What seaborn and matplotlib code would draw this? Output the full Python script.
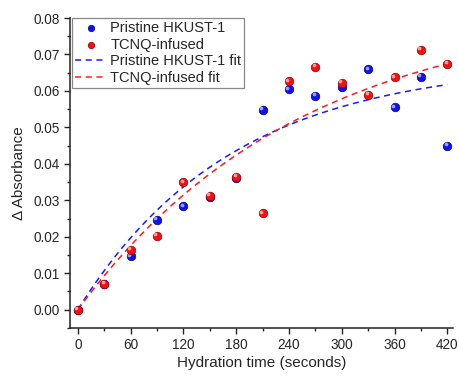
import numpy as np
import pandas as pd
import matplotlib
matplotlib.use("Agg")
import matplotlib.pyplot as plt
import matplotlib.transforms as mtransforms
import seaborn as sns

time_s = [0, 30, 60, 90, 120, 150, 180, 210, 240, 270, 300, 330, 360, 390, 420]
pristine = [0.0, 0.0069, 0.0147, 0.0247, 0.0283, 0.0310, 0.0362, 0.0549, 0.0605, 0.0587, 0.0612, 0.0660, 0.0555, 0.0639, 0.0449]
tcnq = [0.0, 0.0071, 0.0165, 0.0202, 0.0350, 0.0312, 0.0364, 0.0264, 0.0626, 0.0667, 0.0622, 0.0590, 0.0637, 0.0713, 0.0674]
# exponential fit parameters y = A * (1 - exp(-t / tau))
fit_pristine = {"A": 0.0679, "tau": 175.0}
fit_tcnq = {"A": 0.0833, "tau": 253.0}
xticks = [0, 60, 120, 180, 240, 300, 360, 420]
yticks = [0.00, 0.01, 0.02, 0.03, 0.04, 0.05, 0.06, 0.07, 0.08]

sns.set_theme(style="ticks")
plt.rcParams['font.family'] = ['Liberation Sans', 'DejaVu Sans']

xs = np.linspace(0, 420, 300)
fit_df = pd.DataFrame({
    "t": xs,
    "p": fit_pristine["A"] * (1 - np.exp(-xs / fit_pristine["tau"])),
    "q": fit_tcnq["A"] * (1 - np.exp(-xs / fit_tcnq["tau"])),
})
df = pd.DataFrame({"t": time_s, "p": pristine, "q": tcnq})

fig = plt.figure(figsize=(4.6, 3.76), dpi=100)
ax = fig.add_axes([0.152, 0.128, 0.832, 0.824])

sns.scatterplot(data=df, x="t", y="p", ax=ax, color="#1212e8", s=38,
                edgecolor="#00008c", linewidth=0.5, label="Pristine HKUST-1", zorder=3)
sns.scatterplot(data=df, x="t", y="q", ax=ax, color="#ee1212", s=38,
                edgecolor="#9a0000", linewidth=0.5, label="TCNQ-infused", zorder=4)
off = mtransforms.offset_copy(ax.transData, fig=fig, x=-1.1, y=1.1, units='points')
ax.scatter(df["t"], df["p"], s=7, color="white", alpha=0.6, linewidth=0, transform=off, zorder=3.5)
ax.scatter(df["t"], df["q"], s=7, color="white", alpha=0.6, linewidth=0, transform=off, zorder=4.5)

sns.lineplot(data=fit_df, x="t", y="p", ax=ax, color="#1a1aff", lw=1.1,
             label="Pristine HKUST-1 fit", zorder=2)
sns.lineplot(data=fit_df, x="t", y="q", ax=ax, color="#ff1a1a", lw=1.1,
             label="TCNQ-infused fit", zorder=2)
for ln in ax.get_lines():
    ln.set_dashes([4, 3])

ax.set_xlim(-9, 426)
ax.set_ylim(-0.005, 0.08)
ax.set_xticks(xticks)
ax.set_yticks(yticks)
ax.set_yticklabels([f"{v:.2f}" for v in yticks])
ax.set_xticks(np.arange(30, 420, 60), minor=True)
ax.set_yticks(np.arange(-0.005, 0.08, 0.01), minor=True)
ax.tick_params(axis='both', which='major', direction='out', length=4.5, width=1, labelsize=9.8, color="#222222", pad=3)
ax.tick_params(axis='both', which='minor', direction='out', length=2.5, width=1, color="#222222")
for s in ["top", "right"]:
    ax.spines[s].set_visible(False)
for s in ["left", "bottom"]:
    ax.spines[s].set_color("#222222")
    ax.spines[s].set_linewidth(1.1)

ax.set_xlabel("Hydration time (seconds)", fontsize=11, labelpad=3)
ax.set_ylabel("Δ Absorbance", fontsize=11, labelpad=5)

leg = ax.legend(loc="upper left", bbox_to_anchor=(0.005, 1.0), fontsize=10.5, frameon=True,
                fancybox=False, edgecolor="#888888", framealpha=1, borderpad=0.2,
                labelspacing=0.18, handlelength=2.2, handletextpad=0.25, borderaxespad=0,
                markerscale=0.75)
leg.get_frame().set_linewidth(0.9)

fig.savefig("out.png", dpi=100)
